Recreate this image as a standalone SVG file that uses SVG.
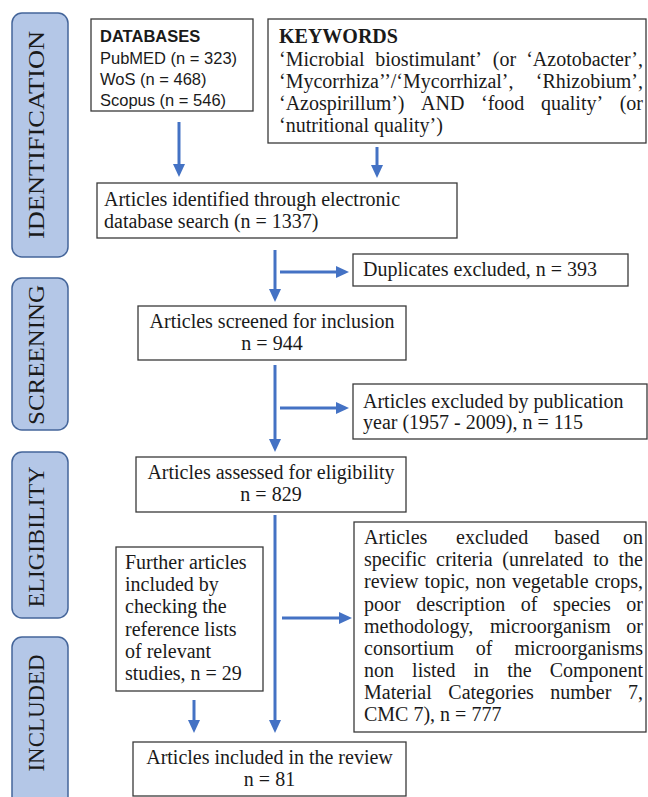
<svg xmlns="http://www.w3.org/2000/svg" width="648" height="797" viewBox="0 0 648 797">
<style>
.box{fill:#fff;stroke:#3a3a3a;stroke-width:1.3}
.stage{fill:#b4c7e7;stroke:#44659a;stroke-width:1.5}
.t{font-family:"Liberation Serif","Times New Roman",serif;font-size:20px;fill:#1a1a1a}
.s{font-family:"Liberation Sans",Arial,sans-serif;font-size:16.5px;fill:#1a1a1a}
.lab{font-family:"Liberation Serif","Times New Roman",serif;font-size:24px;fill:#1a1a1a;text-anchor:middle}
.c{text-anchor:middle}
.e{text-anchor:end}
.arr{stroke:#4472c4;stroke-width:3;fill:none;marker-end:url(#ah)}
</style>
<defs>
<marker id="ah" markerUnits="userSpaceOnUse" markerWidth="14" markerHeight="13" refX="1" refY="6" orient="auto">
<path d="M0,0 L13,6 L0,12 z" fill="#4472c4"/>
</marker>
</defs>
<rect width="648" height="797" fill="#fff"/>

<g id="stage-identification">
<rect class="stage" x="12" y="13" width="56" height="244" rx="10"/>
<text class="lab" transform="translate(44,135) rotate(-90)" textLength="208" lengthAdjust="spacingAndGlyphs">IDENTIFICATION</text>
</g>
<g id="stage-screening">
<rect class="stage" x="12" y="278" width="56" height="152" rx="10"/>
<text class="lab" transform="translate(44,355) rotate(-90)" textLength="140" lengthAdjust="spacingAndGlyphs">SCREENING</text>
</g>
<g id="stage-eligibility">
<rect class="stage" x="12" y="452" width="56" height="166" rx="10"/>
<text class="lab" transform="translate(44,537) rotate(-90)" textLength="141" lengthAdjust="spacingAndGlyphs">ELIGIBILITY</text>
</g>
<g id="stage-included">
<rect class="stage" x="12" y="637" width="56" height="175" rx="10"/>
<text class="lab" transform="translate(44,713) rotate(-90)" textLength="117" lengthAdjust="spacingAndGlyphs">INCLUDED</text>
</g>

<g id="databases">
<rect class="box" x="91" y="19" width="162" height="92"/>
<text class="s" x="100" y="42" font-weight="bold">DATABASES</text>
<text class="s" x="100" y="64">PubMED (n = 323)</text>
<text class="s" x="100" y="85">WoS (n = 468)</text>
<text class="s" x="100" y="106">Scopus (n = 546)</text>
</g>

<g id="keywords">
<rect class="box" x="268" y="19" width="378" height="124"/>
<text class="t" x="279" y="43" font-weight="bold">KEYWORDS</text>
<text class="t" y="66"><tspan x="279">‘Microbial</tspan><tspan x="375.3">biostimulant’</tspan><tspan x="492.8">(or</tspan><tspan x="643" text-anchor="end">‘Azotobacter’,</tspan></text>
<text class="t" y="88"><tspan x="279">‘Mycorrhiza’’/‘Mycorrhizal’,</tspan><tspan x="643" text-anchor="end">‘Rhizobium’,</tspan></text>
<text class="t" y="110"><tspan x="279">‘Azospirillum’)</tspan><tspan x="421.1">AND</tspan><tspan x="481">‘food</tspan><tspan x="540.9">quality’</tspan><tspan x="643" text-anchor="end">(or</tspan></text>
<text class="t" x="279" y="132">‘nutritional quality’)</text>
</g>

<g id="identified">
<rect class="box" x="97" y="183" width="360" height="55"/>
<text class="t" x="104" y="206">Articles identified through electronic</text>
<text class="t" x="104" y="228">database search (n = 1337)</text>
</g>

<g id="duplicates">
<rect class="box" x="353" y="254" width="275" height="32"/>
<text class="t" x="363" y="276">Duplicates excluded, n = 393</text>
</g>

<g id="screened">
<rect class="box" x="138" y="306" width="268" height="54"/>
<text class="t c" x="272" y="328">Articles screened for inclusion</text>
<text class="t c" x="272" y="350">n = 944</text>
</g>

<g id="excluded-year">
<rect class="box" x="353" y="384" width="294" height="55"/>
<text class="t" x="363" y="408">Articles excluded by publication</text>
<text class="t" x="363" y="429">year (1957 - 2009), n = 115</text>
</g>

<g id="assessed">
<rect class="box" x="136" y="457" width="270" height="55"/>
<text class="t c" x="271" y="479">Articles assessed for eligibility</text>
<text class="t c" x="271" y="501">n = 829</text>
</g>

<g id="excluded-criteria">
<rect class="box" x="354" y="522" width="292" height="210"/>
<text class="t" y="544"><tspan x="364">Articles</tspan><tspan x="456">excluded</tspan><tspan x="554.2">based</tspan><tspan x="643" text-anchor="end">on</tspan></text>
<text class="t" y="566"><tspan x="364">specific</tspan><tspan x="436">criteria</tspan><tspan x="502.3">(unrelated</tspan><tspan x="593.2">to</tspan><tspan x="643" text-anchor="end">the</tspan></text>
<text class="t" y="588"><tspan x="364">review</tspan><tspan x="424.6">topic,</tspan><tspan x="475.7">non</tspan><tspan x="511.9">vegetable</tspan><tspan x="643" text-anchor="end">crops,</tspan></text>
<text class="t" y="610.5"><tspan x="364">poor</tspan><tspan x="416.3">description</tspan><tspan x="520.8">of</tspan><tspan x="553.1">species</tspan><tspan x="643" text-anchor="end">or</tspan></text>
<text class="t" y="632.5"><tspan x="364">methodology,</tspan><tspan x="490">microorganism</tspan><tspan x="643" text-anchor="end">or</tspan></text>
<text class="t" y="654.5"><tspan x="364">consortium</tspan><tspan x="475.7">of</tspan><tspan x="643" text-anchor="end">microorganisms</tspan></text>
<text class="t" y="676.5"><tspan x="364">non</tspan><tspan x="412.1">listed</tspan><tspan x="473.5">in</tspan><tspan x="507.2">the</tspan><tspan x="643" text-anchor="end">Component</tspan></text>
<text class="t" y="698.5"><tspan x="364">Material</tspan><tspan x="448.3">Categories</tspan><tspan x="550.3">number</tspan><tspan x="643" text-anchor="end">7,</tspan></text>
<text class="t" x="364" y="721">CMC 7), n = 777</text>
</g>

<g id="further">
<rect class="box" x="116" y="547" width="147" height="144"/>
<text class="t" x="125" y="569">Further articles</text>
<text class="t" x="125" y="591.2">included by</text>
<text class="t" x="125" y="613.4">checking the</text>
<text class="t" x="125" y="635.6">reference lists</text>
<text class="t" x="125" y="657.8">of relevant</text>
<text class="t" x="125" y="680">studies, n = 29</text>
</g>

<g id="included">
<rect class="box" x="133" y="742" width="273" height="54"/>
<text class="t c" x="269.5" y="764">Articles included in the review</text>
<text class="t c" x="269.5" y="786">n = 81</text>
</g>

<g id="connectors">
<line class="arr" x1="179" y1="122" x2="179" y2="165"/>
<line class="arr" x1="377" y1="147" x2="377" y2="166"/>
<line class="arr" x1="275" y1="250" x2="275" y2="290"/>
<line class="arr" x1="280" y1="272" x2="337" y2="272"/>
<line class="arr" x1="275" y1="365" x2="275" y2="440"/>
<line class="arr" x1="280" y1="408" x2="337" y2="408"/>
<line class="arr" x1="275" y1="515" x2="275" y2="721"/>
<line class="arr" x1="282" y1="618" x2="340" y2="618"/>
<line class="arr" x1="194" y1="700" x2="194" y2="721"/>
</g>
</svg>
